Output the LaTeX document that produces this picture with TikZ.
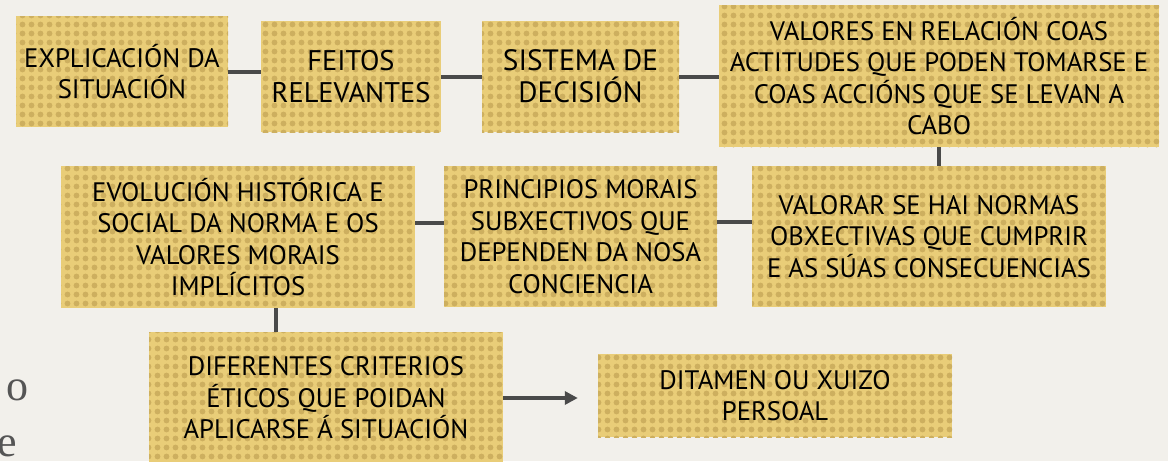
\documentclass[tikz,border=0pt]{standalone}
\usepackage{fontspec}
\setmainfont{PT Sans}
\newfontfamily\sidefont{Liberation Serif}
\usetikzlibrary{arrows.meta,patterns}
\definecolor{paper}{HTML}{F2F0EB}
\definecolor{boxfill}{HTML}{E9CD78}
\definecolor{boxdots}{HTML}{CDAF5F}
\definecolor{lnk}{HTML}{4A4A4A}
\definecolor{sidegrey}{HTML}{555555}
\pgfdeclarepatternformonly{halftone}{\pgfqpoint{-1pt}{-1pt}}{\pgfqpoint{10pt}{10pt}}{\pgfqpoint{9pt}{9pt}}{%
  \pgfpathcircle{\pgfqpoint{4.5pt}{4.5pt}}{2.9pt}\pgfusepath{fill}}

\begin{document}
\begin{tikzpicture}[x=1pt, y=-1pt,
  box/.style={fill=boxfill, postaction={pattern=halftone, pattern color=boxdots}, inner sep=0pt, align=center, font=\fontsize{26.7}{31.5}\selectfont},
  link/.style={draw=lnk, line width=4pt},
  arr/.style={draw=lnk, line width=3.3pt, -{Triangle[length=13pt,width=13pt]}},
  side/.style={font=\sidefont\fontsize{44}{44}\selectfont, text=sidegrey, anchor=base west, inner sep=0pt}
]
\fill[paper] (0,0) rectangle (1168,461);
\clip (0,0) rectangle (1168,461);

% top row
\node[box, minimum width=212pt, minimum height=111pt] (expl) at (122,71.5) {EXPLICACIÓN DA\\SITUACIÓN};
\node[box, minimum width=180pt, minimum height=111pt, font=\fontsize{28.4}{32}\selectfont] (feitos) at (351,76.5) {FEITOS\\RELEVANTES};
\node[box, minimum width=197pt, minimum height=111pt, font=\fontsize{29.4}{32}\selectfont] (sistema) at (580.5,76.5) {SISTEMA DE\\DECISIÓN};
\node[box, minimum width=440pt, minimum height=142pt] (valores) at (939,76) {VALORES EN RELACIÓN COAS\\ACTITUDES QUE PODEN TOMARSE E\\COAS ACCIÓNS QUE SE LEVAN A\\CABO};

% middle row
\node[box, minimum width=354pt, minimum height=142pt] (evol) at (238,237) {EVOLUCIÓN HISTÓRICA E\\SOCIAL DA NORMA E OS\\VALORES MORAIS\\IMPLÍCITOS};
\node[box, minimum width=273pt, minimum height=141pt] (princ) at (580.5,236.5) {PRINCIPIOS MORAIS\\SUBXECTIVOS QUE\\DEPENDEN DA NOSA\\CONCIENCIA};
\node[box, minimum width=354pt, minimum height=141pt] (valorar) at (929,236.5) {VALORAR SE HAI NORMAS\\OBXECTIVAS QUE CUMPRIR\\E AS SÚAS CONSECUENCIAS};

% bottom row
\node[box, minimum width=354pt, minimum height=132pt] (dif) at (326,398) {DIFERENTES CRITERIOS\\ÉTICOS QUE POIDAN\\APLICARSE Á SITUACIÓN};
\node[box, minimum width=354pt, minimum height=83pt] (ditamen) at (775,395.5) {DITAMEN OU XUIZO\\PERSOAL};

% leftover slide text
\node[side] (sideo) at (6,400) {o};
\node[side] (sidee) at (-3,456) {e};

\draw[link] (expl.east) -- (expl.east -| feitos.west);
\draw[link] (feitos.east) -- (sistema.west);
\draw[link] (sistema.east) -- (valores.west |- sistema.east);
\draw[link] (valores.south) -- (valores.south |- valorar.north);
\draw[link] ([yshift=15pt]valorar.west) -- ([yshift=15pt]princ.east);
\draw[link] ([yshift=14pt]princ.west) -- ([yshift=14pt]princ.west -| evol.east);
\draw[link] ([xshift=38pt]evol.south) -- ([xshift=38pt]evol.south |- dif.north);
\draw[arr] (dif.east) -- ([xshift=-20pt]ditamen.west |- dif.east);
\end{tikzpicture}
\end{document}
